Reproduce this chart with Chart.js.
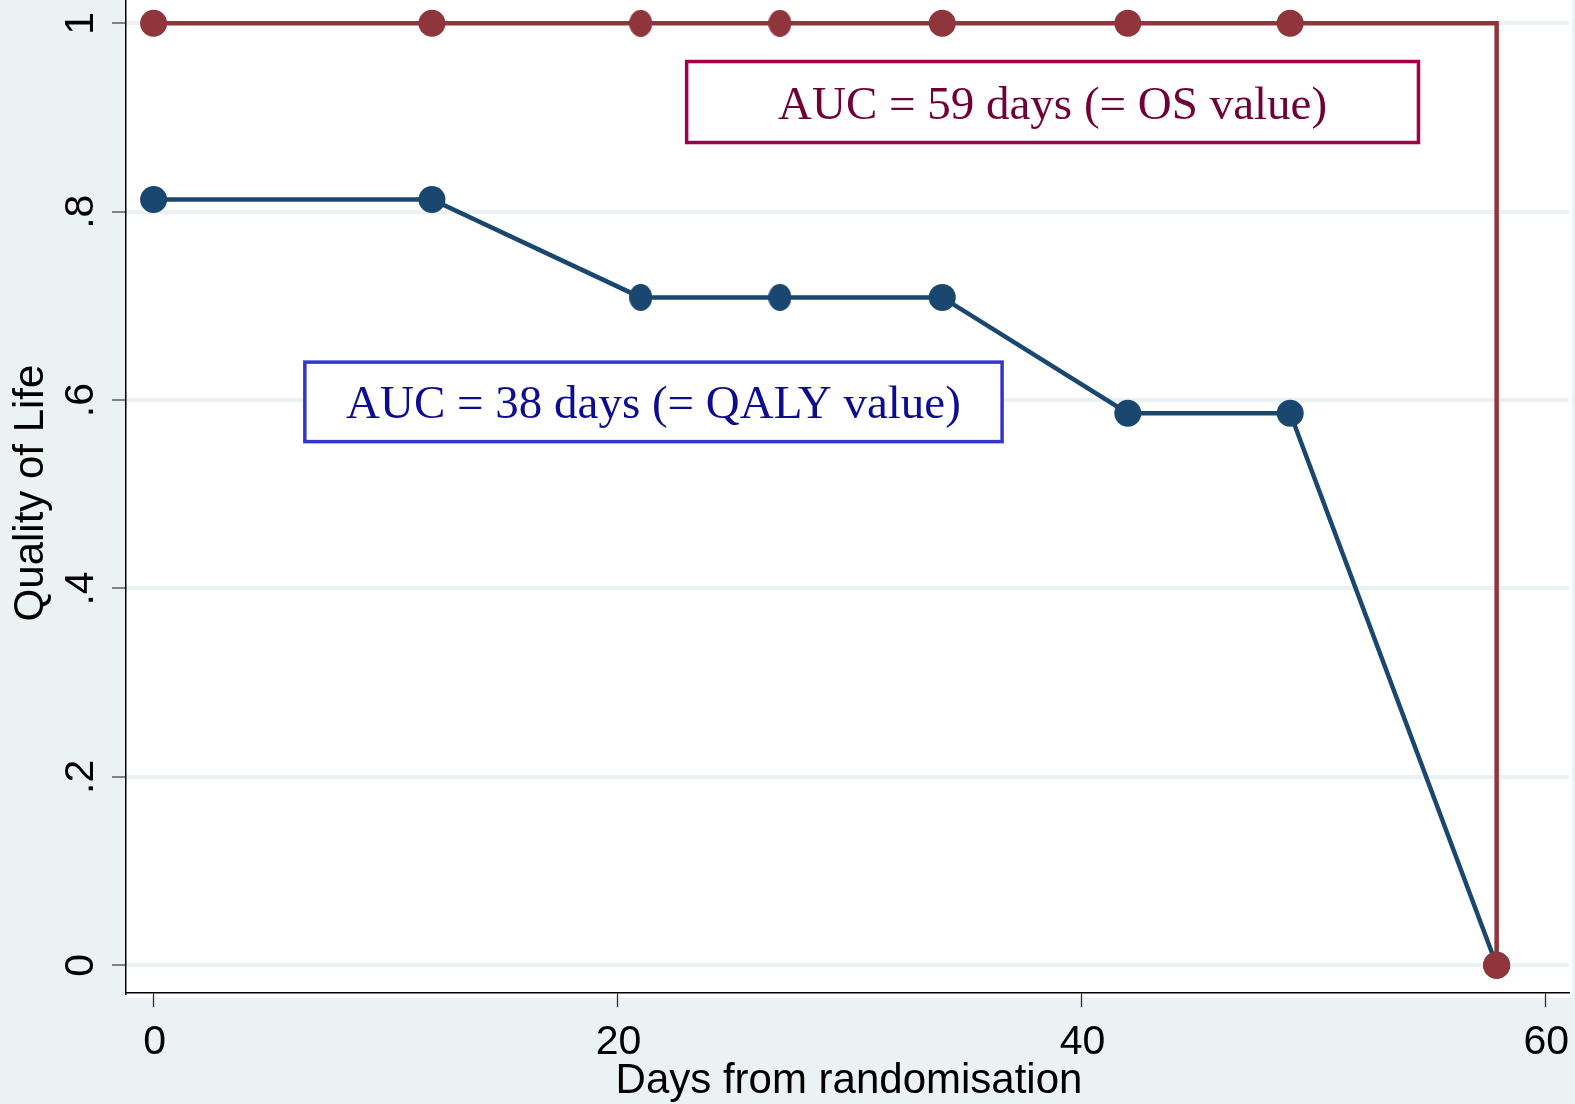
<!DOCTYPE html>
<html><head><meta charset="utf-8">
<script src="https://cdn.jsdelivr.net/npm/chart.js@4.4.1/dist/chart.umd.min.js"></script>
<style>html,body{margin:0;padding:0;background:#eaf2f3;overflow:hidden;}#wrap{width:1575px;height:1104px;}</style>
</head><body><div id="wrap"><canvas id="c" width="1575" height="1104"></canvas></div>
<script>
// ---- data ----
const osDays = [0, 12, 21, 27, 34, 42, 49, 57.9, 57.9];
const osQoL = [1, 1, 1, 1, 1, 1, 1, 1, 0];
const qalyDays = [0, 12, 21, 27, 34, 42, 49, 57.9];
const qalyQoL = [0.813, 0.813, 0.709, 0.709, 0.709, 0.586, 0.586, 0];
const xTicks = [0, 20, 40, 60];
const xTickLabels = ['0', '20', '40', '60'];
const yTicks = [0, 0.2, 0.4, 0.6, 0.8, 1];
const yTickLabels = ['0', '.2', '.4', '.6', '.8', '1'];
const xTitle = 'Days from randomisation';
const yTitle = 'Quality of Life';
const noteTexts = ['AUC = 59 days (= OS value)', 'AUC = 38 days (= QALY value)'];

// ---- styles / layout ----
const RED = '#90353b', BLUE = '#1a476f', BG = '#eaf2f3';
const noteBoxes = [
  {x0: 22.98, x1: 54.53, y0: 0.8734, y1: 0.9594, stroke: '#a0004a', color: '#700038'},
  {x0: 6.52, x1: 36.58, y0: 0.5559, y1: 0.6403, stroke: '#3535cc', color: '#0c0c92'}
];

function ellipseDot(rx, ry, color) {
  const c = document.createElement('canvas');
  c.width = Math.round(rx * 2); c.height = Math.round(ry * 2);
  const g = c.getContext('2d');
  g.fillStyle = color;
  g.beginPath();
  g.ellipse(c.width / 2, c.height / 2, c.width / 2, c.height / 2, 0, 0, Math.PI * 2);
  g.fill();
  return c;
}
const redEll = ellipseDot(11.5, 13.5, RED);
const blueEll = ellipseDot(11.5, 13.5, BLUE);

function styleFor(days, ell) {
  return days.map(d => (d === 21 || d === 27) ? ell : 'circle');
}

const osData = osDays.map((d, i) => ({x: d, y: osQoL[i]}));
const qalyData = qalyDays.map((d, i) => ({x: d, y: qalyQoL[i]}));
const osRadius = osDays.map((d, i) => (i === 7 ? 0 : 13.5));

const decor = {
  id: 'decor',
  beforeDraw(chart) {
    const {ctx, chartArea: a} = chart;
    ctx.save();
    ctx.fillStyle = BG;
    ctx.fillRect(0, 0, chart.width, chart.height);
    ctx.fillStyle = '#ffffff';
    ctx.fillRect(a.left, 0, a.right - a.left + 3, a.bottom + 5);
    ctx.restore();
  },
  afterDraw(chart) {
    const {ctx, chartArea: a, scales: {x, y}} = chart;
    ctx.save();
    // annotation boxes
    noteBoxes.forEach((b, i) => {
      const l = x.getPixelForValue(b.x0), r = x.getPixelForValue(b.x1);
      const t = y.getPixelForValue(b.y1), bt = y.getPixelForValue(b.y0);
      ctx.fillStyle = '#ffffff';
      ctx.fillRect(l, t, r - l, bt - t);
      ctx.strokeStyle = b.stroke;
      ctx.lineWidth = 3.5;
      ctx.strokeRect(l, t, r - l, bt - t);
      ctx.fillStyle = b.color;
      ctx.font = '47px "Liberation Serif", "Times New Roman", serif';
      ctx.textAlign = 'center';
      ctx.textBaseline = 'alphabetic';
      ctx.fillText(noteTexts[i], (l + r) / 2, (t + bt) / 2 + 16.5);
    });
    // x tick labels
    ctx.fillStyle = '#000';
    ctx.font = '41px "Liberation Sans", Arial, sans-serif';
    ctx.textAlign = 'center';
    ctx.textBaseline = 'alphabetic';
    xTicks.forEach((v, i) => ctx.fillText(xTickLabels[i], x.getPixelForValue(v) + 1, 1054));
    // x title
    ctx.font = '42px "Liberation Sans", Arial, sans-serif';
    ctx.fillText(xTitle, (a.left + a.right) / 2 + 1.5, 1093);
    // y tick labels (rotated)
    ctx.font = '41px "Liberation Sans", Arial, sans-serif';
    yTicks.forEach((v, i) => {
      ctx.save();
      ctx.translate(93, y.getPixelForValue(v));
      ctx.rotate(-Math.PI / 2);
      ctx.fillText(yTickLabels[i], 0, 0);
      ctx.restore();
    });
    // y title
    ctx.font = '42px "Liberation Sans", Arial, sans-serif';
    ctx.save();
    ctx.translate(43, 493);
    ctx.rotate(-Math.PI / 2);
    ctx.fillText(yTitle, 0, 0);
    ctx.restore();
    ctx.restore();
  }
};

new Chart(document.getElementById('c'), {
  type: 'line',
  data: {
    datasets: [
      {
        label: 'OS', data: osData, borderColor: RED, backgroundColor: RED,
        borderWidth: 4.5, borderJoinStyle: 'miter', tension: 0,
        pointStyle: styleFor(osDays, redEll), pointRadius: osRadius,
        pointBackgroundColor: RED, pointBorderWidth: 0, fill: false
      },
      {
        label: 'QALY', data: qalyData, borderColor: BLUE, backgroundColor: BLUE,
        borderWidth: 4.5, borderJoinStyle: 'miter', tension: 0,
        pointStyle: styleFor(qalyDays, blueEll), pointRadius: 13.5,
        pointBackgroundColor: BLUE, pointBorderWidth: 0, fill: false
      }
    ]
  },
  options: {
    responsive: false, animation: false, devicePixelRatio: 1,
    layout: {autoPadding: false, padding: {top: 0, right: 6, bottom: 0, left: 0}},
    plugins: {legend: {display: false}, tooltip: {enabled: false}},
    scales: {
      x: {
        type: 'linear', min: -1.19, max: 61.02,
        afterBuildTicks: s => { s.ticks = xTicks.map(v => ({value: v})); },
        afterFit: s => { s.height = 111; },
        ticks: {display: false},
        grid: {drawOnChartArea: false, drawTicks: true, tickLength: 14, tickColor: '#333', tickWidth: 1.3},
        border: {display: true, color: '#000', width: 1.5}
      },
      y: {
        type: 'linear', min: -0.0294, max: 1.0247,
        afterBuildTicks: s => { s.ticks = yTicks.map(v => ({value: v})); },
        afterFit: s => { s.width = 126; },
        ticks: {display: false},
        grid: {color: BG, lineWidth: 4, drawTicks: true, tickLength: 14, tickColor: '#444', tickWidth: 1.3},
        border: {display: true, color: '#000', width: 1.5}
      }
    }
  },
  plugins: [decor]
});
</script>
</body></html>
